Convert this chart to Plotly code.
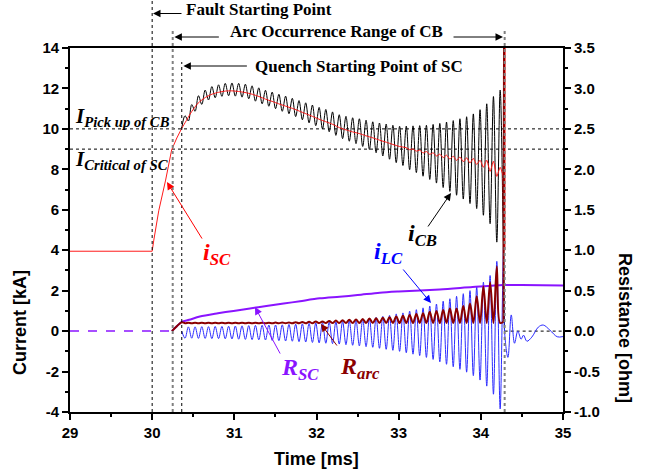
import plotly.graph_objects as go

# ---------------- data ----------------
x_ticks = [29, 30, 31, 32, 33, 34, 35]
x_tick_labels = ["29", "30", "31", "32", "33", "34", "35"]
y_ticks = [-4, -2, 0, 2, 4, 6, 8, 10, 12, 14]
y_tick_labels = ["-4", "-2", "0", "2", "4", "6", "8", "10", "12", "14"]
y2_ticks = [-1.0, -0.5, 0.0, 0.5, 1.0, 1.5, 2.0, 2.5, 3.0, 3.5]
y2_tick_labels = ["-1.0", "-0.5", "0.0", "0.5", "1.0", "1.5", "2.0", "2.5", "3.0", "3.5"]

# event times [ms]
t_fault = 30.0
t_arc = 30.25
t_quench = 30.36
t_break = 34.29
i_pickup_cb = 10.0     # kA
i_critical_sc = 9.0    # kA

# oscillation sampling (extrema of the ~12 kHz ringing)
osc_t0 = 30.40          # first extremum (iLC trough / iCB peak)
osc_half = 0.0408       # half period [ms]

# i_LC [kA] : trough and peak of every cycle
ilc_trough = [-0.35, -0.35, -0.36, -0.36, -0.37, -0.37, -0.38, -0.39, -0.40, -0.41,
              -0.42, -0.43, -0.44, -0.46, -0.47, -0.49, -0.50, -0.52, -0.54, -0.56,
              -0.58, -0.60, -0.62, -0.64, -0.67, -0.70, -0.73, -0.77, -0.80, -0.85,
              -0.90, -0.95, -1.00, -1.07, -1.14, -1.21, -1.30, -1.40, -1.52, -1.64,
              -1.76, -1.89, -2.03, -2.20, -2.42, -2.72, -3.12, -3.85]
ilc_peak = [0.21, 0.21, 0.22, 0.22, 0.23, 0.23, 0.24, 0.25, 0.26, 0.27,
            0.28, 0.29, 0.30, 0.30, 0.31, 0.33, 0.34, 0.36, 0.38, 0.40,
            0.42, 0.44, 0.46, 0.48, 0.51, 0.54, 0.59, 0.63, 0.68, 0.73,
            0.78, 0.85, 0.90, 0.99, 1.06, 1.15, 1.24, 1.34, 1.48, 1.60,
            1.72, 1.85, 2.00, 2.18, 2.42, 2.75, 3.45, 4.20]
ilc_start_t, ilc_start_v = [30.36], [0.0]
ilc_after_t = [34.288, 34.33, 34.37, 34.41, 34.45, 34.49, 34.52, 34.56, 34.62,
               34.70, 34.76, 34.84, 34.93, 35.0]
ilc_after_v = [0.0, -1.3, 0.8, -0.6, 0.0, -0.4, -0.2, -0.5, -0.3,
               0.2, 0.3, 0.05, -0.28, -0.27]

# i_CB [kA] : peak and trough of every cycle
icb_peak = [10.65, 11.20, 11.64, 11.92, 12.09, 12.18, 12.25, 12.27, 12.25, 12.21,
            12.13, 12.03, 11.91, 11.82, 11.71, 11.62, 11.51, 11.40, 11.29, 11.18,
            11.06, 10.96, 10.84, 10.70, 10.62, 10.55, 10.50, 10.43, 10.35, 10.29,
            10.24, 10.18, 10.13, 10.14, 10.15, 10.16, 10.18, 10.22, 10.27, 10.34,
            10.41, 10.50, 10.60, 10.74, 10.95, 11.24, 11.60, 11.92]
icb_trough = [10.39, 10.87, 11.21, 11.43, 11.54, 11.61, 11.64, 11.62, 11.57, 11.49,
              11.37, 11.24, 11.12, 11.00, 10.87, 10.75, 10.61, 10.45, 10.30, 10.16,
              10.00, 9.86, 9.68, 9.52, 9.39, 9.27, 9.13, 8.98, 8.82, 8.66,
              8.50, 8.33, 8.19, 7.98, 7.84, 7.66, 7.50, 7.32, 7.10, 6.91,
              6.72, 6.53, 6.31, 6.06, 5.73, 5.31, 4.40, 3.60]
icb_start_t, icb_start_v = [30.36], [10.03]
icb_end_t, icb_end_v = [34.288], [0.0]

# i_SC [kA] : pre-fault and rise (straight segments)
isc_rise_t = [29.0, 30.0, 30.02, 30.08, 30.164, 30.237, 30.30, 30.36]
isc_rise_v = [3.95, 3.95, 4.5, 5.95, 7.47, 8.96, 9.55, 10.03]
# i_SC [kA] : smooth part after quench
isc_t = [30.36, 30.40, 30.48, 30.56, 30.65, 30.73, 30.81, 30.89, 30.97, 31.05,
         31.13, 31.22, 31.30, 31.38, 31.46, 31.54, 31.62, 31.71, 31.79, 31.87,
         31.95, 32.03, 32.11, 32.20, 32.28, 32.36, 32.44, 32.52, 32.60, 32.69,
         32.77, 32.85, 32.93, 33.01]
isc_v = [10.03, 10.3, 10.85, 11.28, 11.56, 11.72, 11.81, 11.87, 11.88, 11.85,
         11.80, 11.71, 11.60, 11.47, 11.36, 11.24, 11.13, 11.01, 10.88, 10.75,
         10.62, 10.48, 10.36, 10.22, 10.06, 9.95, 9.85, 9.77, 9.66, 9.55,
         9.44, 9.34, 9.23, 9.13]
# i_SC ripple (cycles 33..47)
isc_rip_first_cycle = 33
isc_rip_hi = [9.07, 9.01, 8.95, 8.88, 8.82, 8.75, 8.70, 8.65, 8.61, 8.57,
              8.54, 8.45, 8.45, 8.40, 8.10]
isc_rip_lo = [8.97, 8.90, 8.81, 8.74, 8.66, 8.58, 8.51, 8.44, 8.38, 8.31,
              8.24, 8.10, 7.90, 7.65, 7.60]
isc_spike_t = [34.276, 34.287, 34.291]
isc_spike_v = [7.60, 4.0, 16.0]

# R_arc [ohm]
rarc_pre_t = [30.24, 30.30, 30.36]
rarc_pre_v = [0.0, 0.06, 0.11]
rarc_trough = [0.097] * 20 + [0.100] * 28
rarc_peak = [0.103, 0.103, 0.103, 0.103, 0.103, 0.103, 0.103, 0.103, 0.103, 0.103,
             0.103, 0.103, 0.103, 0.105, 0.106, 0.108, 0.110, 0.112, 0.115, 0.118,
             0.120, 0.125, 0.130, 0.135, 0.140, 0.145, 0.150, 0.155, 0.160, 0.165,
             0.170, 0.180, 0.190, 0.200, 0.210, 0.220, 0.240, 0.250, 0.260, 0.280,
             0.280, 0.310, 0.340, 0.430, 0.550, 0.600, 0.800, 0.120]
rarc_spike_t = [34.276, 34.284]
rarc_spike_v = [0.12, 4.6]

# R_SC [ohm]
rsc_t = [30.24, 30.30, 30.36, 30.45, 30.58, 30.80, 30.99, 31.19, 31.39, 31.60,
         31.80, 32.04, 32.28, 32.50, 32.77, 33.00, 33.50, 33.90, 34.27, 34.50, 35.00]
rsc_v = [0.0, 0.06, 0.115, 0.14, 0.18, 0.22, 0.25, 0.28, 0.31, 0.34,
         0.37, 0.405, 0.425, 0.445, 0.475, 0.49, 0.515, 0.545, 0.57, 0.57, 0.565]

# ---------------- build series ----------------
n_cyc = len(ilc_trough)
t_tr = [osc_t0 + 2 * osc_half * j for j in range(n_cyc)]   # iLC trough times
t_pk = [t + osc_half for t in t_tr]                          # iLC peak times


def interleave(a, b):
    out = []
    for u, v in zip(a, b):
        out += [u, v]
    return out


osc_t = interleave(t_tr, t_pk)

icb_x = icb_start_t + osc_t + icb_end_t
icb_y = icb_start_v + interleave(icb_peak, icb_trough) + icb_end_v

ilc_x = ilc_start_t + osc_t + ilc_after_t
ilc_y = ilc_start_v + interleave(ilc_trough, ilc_peak) + ilc_after_v

isc_x = list(isc_t)
isc_y = list(isc_v)
for k, (hi, lo) in enumerate(zip(isc_rip_hi, isc_rip_lo)):
    j = isc_rip_first_cycle + k
    isc_x += [t_tr[j], t_pk[j]]
    isc_y += [hi, lo]

rarc_x = rarc_pre_t + osc_t
rarc_y = rarc_pre_v + interleave(rarc_trough, rarc_peak)

# ---------------- colours ----------------
C_RED = "#FF1A1A"
C_BLACK = "#000000"
C_BLUE = "#2B2BFF"
C_PURPLE = "#8A14FF"
C_DRED = "#8B0000"

fig = go.Figure()
fig.add_trace(go.Scatter(x=icb_x, y=icb_y, mode="lines",
                         line=dict(color=C_BLACK, width=1, shape="spline", smoothing=1),
                         name="i_CB"))
fig.add_trace(go.Scatter(x=ilc_x, y=ilc_y, mode="lines",
                         line=dict(color=C_BLUE, width=1, shape="spline", smoothing=1),
                         name="i_LC"))
fig.add_trace(go.Scatter(x=rsc_t, y=rsc_v, mode="lines", yaxis="y2",
                         line=dict(color=C_PURPLE, width=2, shape="spline", smoothing=0.8),
                         name="R_SC"))
fig.add_trace(go.Scatter(x=rarc_x, y=rarc_y, mode="lines", yaxis="y2",
                         line=dict(color=C_DRED, width=2, shape="spline", smoothing=1),
                         name="R_arc"))
fig.add_trace(go.Scatter(x=rarc_spike_t, y=rarc_spike_v, mode="lines", yaxis="y2",
                         line=dict(color=C_DRED, width=2), name="R_arc spike"))
fig.add_trace(go.Scatter(x=isc_rise_t, y=isc_rise_v, mode="lines",
                         line=dict(color=C_RED, width=1), name="i_SC rise"))
fig.add_trace(go.Scatter(x=isc_x, y=isc_y, mode="lines",
                         line=dict(color=C_RED, width=1, shape="spline", smoothing=0.6),
                         name="i_SC"))
fig.add_trace(go.Scatter(x=isc_spike_t, y=isc_spike_v, mode="lines",
                         line=dict(color=C_RED, width=2), name="i_SC spike"))

# ---------------- geometry (layout only) ----------------
W, H = 645, 474
ML, MR, MT, MB = 70, 82, 48, 62
PW, PH = W - ML - MR, H - MT - MB


def px_to_paper_y(py):
    return (H - MB - py) / PH


def px_to_paper_x(px):
    return (px - ML) / PW


shapes = []
dot = dict(color="black", width=1, dash="dot")
for yv in (i_pickup_cb, i_critical_sc):
    shapes.append(dict(type="line", xref="paper", yref="y", x0=0, x1=1, y0=yv, y1=yv,
                       line=dot, layer="below"))
shapes.append(dict(type="line", xref="x", yref="paper", x0=t_fault, x1=t_fault,
                   y0=0, y1=px_to_paper_y(0), line=dot))
shapes.append(dict(type="line", xref="x", yref="paper", x0=t_arc, x1=t_arc,
                   y0=0, y1=px_to_paper_y(29), line=dict(color="#808080", width=2, dash="dot")))
shapes.append(dict(type="line", xref="x", yref="paper", x0=t_quench, x1=t_quench,
                   y0=0, y1=px_to_paper_y(62), line=dot))
shapes.append(dict(type="line", xref="x", yref="paper", x0=t_break, x1=t_break,
                   y0=0, y1=px_to_paper_y(28), line=dict(color="#808080", width=2, dash="dot")))
shapes.append(dict(type="line", xref="x", yref="y", x0=t_break, x1=35, y0=0, y1=0,
                   line=dict(color="black", width=1, dash="dot"), layer="below"))
shapes.append(dict(type="line", xref="x", yref="y", x0=29, x1=t_arc - 0.01, y0=0, y1=0,
                   line=dict(color=C_PURPLE, width=1.5, dash="dash")))

SERIF = "Liberation Serif, Times New Roman, serif"
SANS = "Liberation Sans, Arial, sans-serif"

ann = []
for txt, px, py in [("Fault Starting Point", 184, 10),
                    ("Arc Occurrence Range of CB", 228, 32),
                    ("Quench Starting Point of SC", 253, 66)]:
    ann.append(dict(text="<b>" + txt + "</b>", xref="paper", yref="paper",
                    x=px_to_paper_x(px), y=px_to_paper_y(py), xanchor="left", yanchor="middle",
                    showarrow=False, font=dict(family=SERIF, size=17, color="black")))
for hx, py, ax in [(30.01, 13.5, 30), (30.27, 37, 46), (34.27, 37, -51), (30.38, 66, 65)]:
    ann.append(dict(text="", xref="x", yref="paper", x=hx, y=px_to_paper_y(py),
                    axref="pixel", ayref="pixel", ax=ax, ay=0, showarrow=True,
                    arrowhead=2, arrowsize=1.5, arrowwidth=1, arrowcolor="black"))

for main, sub, yv in [("I", "Pick up of CB", 10.59), ("I", "Critical of SC", 8.46)]:
    ann.append(dict(text="<b><i>%s</i></b><sub><b><i>%s</i></b></sub>" % (main, sub),
                    xref="x", yref="y", x=29.04, y=yv, xanchor="left", yanchor="middle",
                    showarrow=False, font=dict(family=SERIF, size=21, color="black")))

for main, sub, xv, yv, col in [("i", "SC", 30.79, 3.81, "#FF0000"),
                               ("i", "CB", 33.284, 4.75, "#000000"),
                               ("i", "LC", 32.882, 3.86, "#0000FF"),
                               ("R", "SC", 31.799, -1.88, C_PURPLE),
                               ("R", "arc", 32.529, -1.83, C_DRED)]:
    ann.append(dict(text="<b><i>%s</i></b><sub><b><i>%s</i></b></sub>" % (main, sub),
                    xref="x", yref="y", x=xv, y=yv, xanchor="center", yanchor="middle",
                    showarrow=False, font=dict(family=SERIF, size=24, color=col)))
for hx, hy, ax, ay, col in [(30.18, 7.37, 36, 58, "#FF0000"),
                            (33.637, 6.83, -24, 35, "#000000"),
                            (33.393, 1.39, -29, -35, "#0000FF"),
                            (31.251, 1.19, 26, 48, C_PURPLE),
                            (32.055, 0.35, 17, 23, C_DRED)]:
    ann.append(dict(text="", xref="x", yref="y", x=hx, y=hy, axref="pixel", ayref="pixel",
                    ax=ax, ay=ay, showarrow=True, arrowhead=2, arrowsize=1.5,
                    arrowwidth=1, arrowcolor=col))

ann.append(dict(text="<b>Current [kA]</b>", xref="paper", yref="paper",
                x=px_to_paper_x(20), y=px_to_paper_y(323), textangle=-90, showarrow=False,
                xanchor="center", yanchor="middle", font=dict(family=SANS, size=18, color="black")))
ann.append(dict(text="<b>Resistance [ohm]</b>", xref="paper", yref="paper",
                x=px_to_paper_x(625), y=px_to_paper_y(328), textangle=90, showarrow=False,
                xanchor="center", yanchor="middle", font=dict(family=SANS, size=18, color="black")))
ann.append(dict(text="<b>Time [ms]</b>", xref="paper", yref="paper",
                x=px_to_paper_x(316), y=px_to_paper_y(459), showarrow=False,
                xanchor="center", yanchor="middle", font=dict(family=SANS, size=18, color="black")))

tickfont = dict(family=SANS, size=15, color="black", weight="bold")
axis_common = dict(showgrid=False, zeroline=False, showline=True, linecolor="black",
                   linewidth=1.8, ticks="outside", ticklen=6, tickwidth=1.5, tickcolor="black",
                   tickfont=tickfont)

fig.update_layout(
    width=W, height=H,
    margin=dict(l=ML, r=MR, t=MT, b=MB, pad=0),
    paper_bgcolor="white", plot_bgcolor="white",
    showlegend=False,
    xaxis=dict(range=[29, 35], tickvals=x_ticks, ticktext=x_tick_labels, mirror=True,
               minor=dict(dtick=0.5, ticklen=3, tickwidth=1.5, ticks="outside", tickcolor="black"),
               **axis_common),
    yaxis=dict(range=[-4, 14], tickvals=y_ticks, ticktext=y_tick_labels,
               minor=dict(dtick=1, ticklen=3, tickwidth=1.5, ticks="outside", tickcolor="black"),
               **axis_common),
    yaxis2=dict(range=[-1, 3.5], tickvals=y2_ticks, ticktext=y2_tick_labels,
                overlaying="y", side="right",
                minor=dict(dtick=0.25, ticklen=3, tickwidth=1.5, ticks="outside", tickcolor="black"),
                **axis_common),
    shapes=shapes,
    annotations=ann,
)

# remove the browser's default 8 px page margin so the figure fills the window exactly
fig.write_html("out.html", config={"displayModeBar": False},
               post_script="document.body.style.margin='0';document.body.style.padding='0';")
